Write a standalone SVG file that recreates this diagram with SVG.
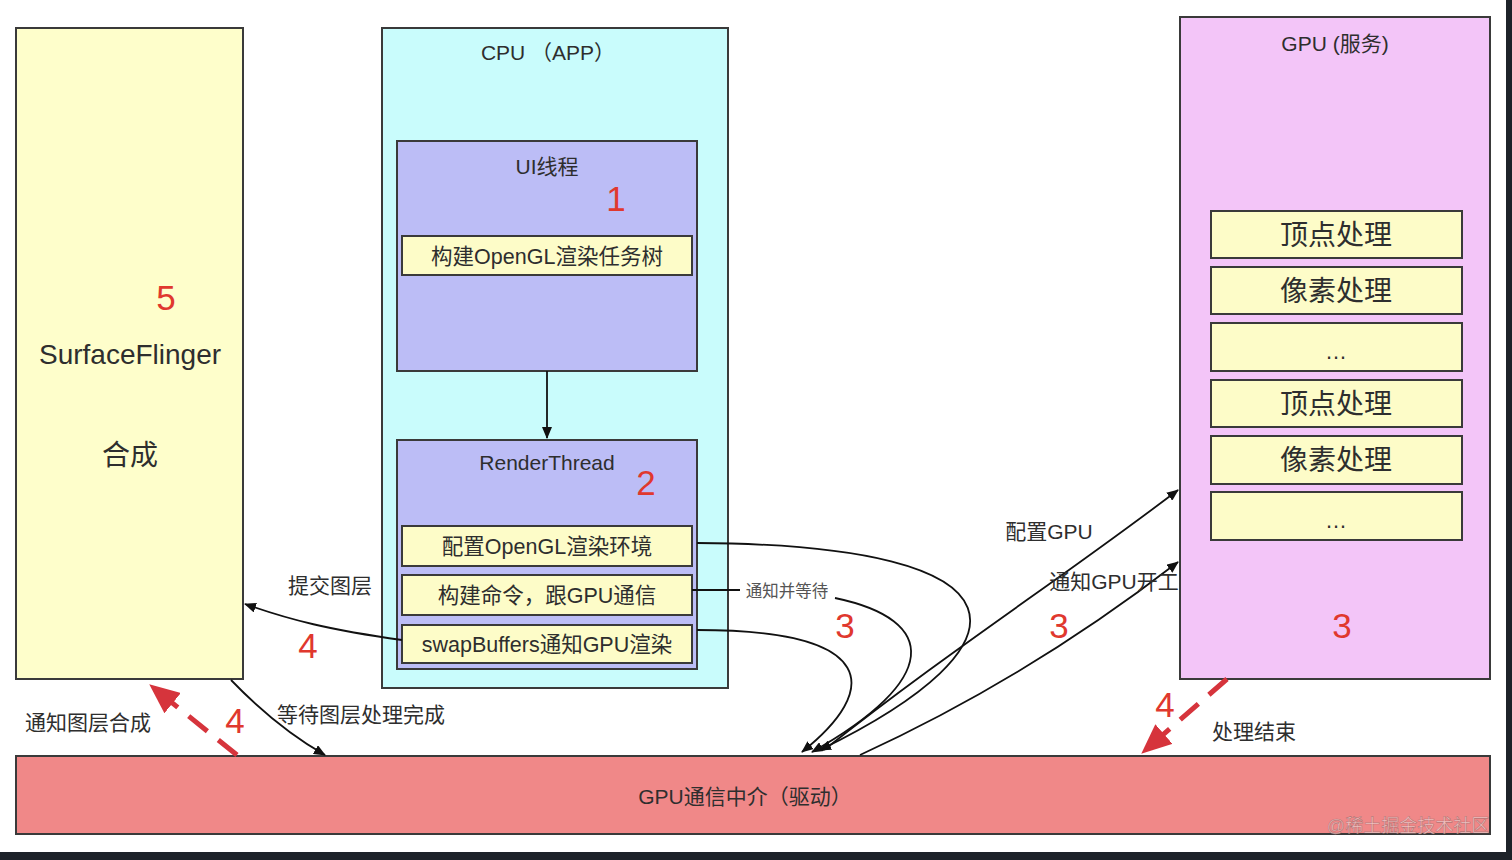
<svg xmlns="http://www.w3.org/2000/svg" width="1512" height="860" viewBox="0 0 1512 860">
<defs>
<style>
.t{font-family:"Liberation Sans","Noto Sans CJK SC",sans-serif;fill:#2e2e2e;text-anchor:middle;dominant-baseline:central}
.n{font-family:"Liberation Sans",sans-serif;fill:#e0382e;font-size:35px;text-anchor:middle;dominant-baseline:central}
.box{stroke:#3a3a3a;stroke-width:2}
.item{fill:#fdfcc8;stroke:#3a3a3a;stroke-width:2}
.c{fill:none;stroke:#111;stroke-width:1.8}
.d{fill:none;stroke:#d6343c;stroke-width:5;stroke-dasharray:24 14}
</style>
<marker id="ah" viewBox="0 0 12 10" refX="11" refY="5" markerWidth="12" markerHeight="10" markerUnits="userSpaceOnUse" orient="auto">
<path d="M0,0 L12,5 L0,10 z" fill="#111"/>
</marker>
<marker id="rh" viewBox="0 0 30 26" refX="29" refY="13" markerWidth="30" markerHeight="26" markerUnits="userSpaceOnUse" orient="auto">
<path d="M0,0 L30,13 L0,26 z" fill="#d6343c"/>
</marker>
</defs>
<rect x="0" y="0" width="1512" height="860" fill="#fff"/>

<g id="surfaceflinger">
<rect class="box" x="16" y="28" width="227" height="651" fill="#fefecb"/>
<text class="n" x="166" y="297">5</text>
<text class="t" x="130" y="354" font-size="28">SurfaceFlinger</text>
<text class="t" x="130" y="455" font-size="28">合成</text>
</g>

<g id="cpu">
<rect class="box" x="382" y="28" width="346" height="660" fill="#c9fcfc"/>
<text class="t" x="548" y="52" font-size="21">CPU （APP）</text>
</g>

<g id="ui-thread">
<rect class="box" x="397" y="141" width="300" height="230" fill="#bcbdf6"/>
<text class="t" x="547" y="166" font-size="21">UI线程</text>
<text class="n" x="616" y="198">1</text>
<rect class="item" x="402" y="236" width="290" height="39"/>
<text class="t" x="547" y="257" font-size="21.5">构建OpenGL渲染任务树</text>
</g>

<g id="render-thread">
<rect class="box" x="397" y="440" width="300" height="229" fill="#bcbdf6"/>
<text class="t" x="547" y="462" font-size="21">RenderThread</text>
<text class="n" x="646" y="482">2</text>
<rect class="item" x="402" y="526" width="290" height="40"/>
<text class="t" x="547" y="547" font-size="21.5">配置OpenGL渲染环境</text>
<rect class="item" x="402" y="575" width="290" height="40"/>
<text class="t" x="547" y="596" font-size="21.5">构建命令，跟GPU通信</text>
<rect class="item" x="402" y="625" width="290" height="38"/>
<text class="t" x="547" y="645" font-size="21.5">swapBuffers通知GPU渲染</text>
</g>

<g id="gpu">
<rect class="box" x="1180" y="17" width="310" height="662" fill="#f3c5f8"/>
<text class="t" x="1335" y="43" font-size="21">GPU (服务)</text>
<rect class="item" x="1211" y="211" width="251" height="47"/>
<text class="t" x="1336" y="235" font-size="28">顶点处理</text>
<rect class="item" x="1211" y="267" width="251" height="47"/>
<text class="t" x="1336" y="291" font-size="28">像素处理</text>
<rect class="item" x="1211" y="323" width="251" height="48"/>
<text class="t" x="1336" y="351" font-size="22">…</text>
<rect class="item" x="1211" y="380" width="251" height="47"/>
<text class="t" x="1336" y="404" font-size="28">顶点处理</text>
<rect class="item" x="1211" y="436" width="251" height="48"/>
<text class="t" x="1336" y="460" font-size="28">像素处理</text>
<rect class="item" x="1211" y="492" width="251" height="48"/>
<text class="t" x="1336" y="520" font-size="22">…</text>
<text class="n" x="1342" y="625">3</text>
</g>

<g id="driver">
<rect class="box" x="16" y="756" width="1474" height="78" fill="#f08888"/>
<text class="t" x="745" y="796" font-size="21">GPU通信中介（驱动）</text>
<text x="1408" y="826" font-family="Liberation Sans,Noto Sans CJK SC,sans-serif" font-size="18" text-anchor="middle" dominant-baseline="central" fill="#f8d0d0" fill-opacity="0.8" stroke="#8a5a5a" stroke-width="0.6" stroke-opacity="0.6">@稀土掘金技术社区</text>
</g>

<g id="connectors">
<path class="c" d="M547,371 L547,438" marker-end="url(#ah)"/>
<path class="c" d="M697,543 C1040,545 1035,645 820,750" marker-end="url(#ah)"/>
<path class="c" d="M692,590 L740,590"/>
<path class="c" d="M835,598 C940,620 940,680 812,752" marker-end="url(#ah)"/>
<path class="c" d="M697,630 C880,630 880,690 802,752" marker-end="url(#ah)"/>
<path class="c" d="M824,750 C950,650 1060,580 1178,490" marker-end="url(#ah)"/>
<path class="c" d="M860,755 C980,700 1090,630 1178,562" marker-end="url(#ah)"/>
<path class="c" d="M402,640 C330,630 290,620 245,604" marker-end="url(#ah)"/>
<path class="c" d="M231,680 C260,710 290,735 325,755" marker-end="url(#ah)"/>
<path class="d" d="M237,755 L150,685" marker-end="url(#rh)"/>
<path class="d" d="M1227,679 L1142,753" marker-end="url(#rh)"/>
</g>

<g id="labels">
<text class="t" x="787" y="591" font-size="16.5" style="fill:#555">通知并等待</text>
<text class="t" x="1049" y="531" font-size="21">配置GPU</text>
<text class="t" x="1114" y="581" font-size="21">通知GPU开工</text>
<text class="t" x="330" y="585" font-size="21">提交图层</text>
<text class="t" x="361" y="714" font-size="21">等待图层处理完成</text>
<text class="t" x="88" y="722" font-size="21">通知图层合成</text>
<text class="t" x="1254" y="731" font-size="21">处理结束</text>
<text class="n" x="845" y="625">3</text>
<text class="n" x="1059" y="625">3</text>
<text class="n" x="308" y="645">4</text>
<text class="n" x="235" y="720">4</text>
<text class="n" x="1165" y="704">4</text>
</g>

<rect x="1506" y="0" width="6" height="860" fill="#1d2229"/>
<rect x="0" y="852" width="1512" height="8" fill="#1d2229"/>
</svg>
